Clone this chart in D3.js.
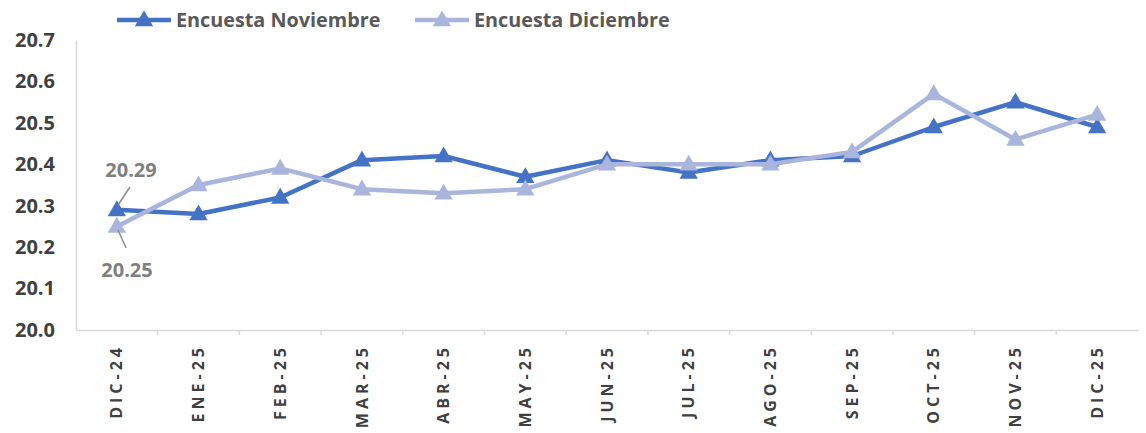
<!DOCTYPE html>
<html><head><meta charset="utf-8">
<script src="https://cdn.jsdelivr.net/npm/d3@7"></script>
<style>body{margin:0;background:#fff;} svg{display:block;font-family:"Open Sans",sans-serif;}</style>
</head><body>
<svg id="chart" width="1146" height="433"></svg>
<script>
const categories = ["DIC-24","ENE-25","FEB-25","MAR-25","ABR-25","MAY-25","JUN-25","JUL-25","AGO-25","SEP-25","OCT-25","NOV-25","DIC-25"];
const seriesNames = ["Encuesta Noviembre","Encuesta Diciembre"];
const noviembre = [20.29,20.28,20.32,20.41,20.42,20.37,20.41,20.38,20.41,20.42,20.49,20.55,20.49];
const diciembre = [20.25,20.35,20.39,20.34,20.33,20.34,20.40,20.40,20.40,20.43,20.57,20.46,20.52];
const yTicks = [20.0,20.1,20.2,20.3,20.4,20.5,20.6,20.7];
const colors = ["#4472C4","#A9B5DC"];

const svg = d3.select("#chart");
const mLeft = 76, mRight = 1138, mTop = 40, mBottom = 330;
const x = d3.scaleBand().domain(categories).range([mLeft, mRight]);
const y = d3.scaleLinear().domain([20.0, 20.7]).range([mBottom, mTop]);

// y axis
const yAxis = svg.append("g").attr("transform", `translate(${mLeft},0)`)
  .call(d3.axisLeft(y).tickValues(yTicks).tickFormat(d3.format(".1f")).tickSize(0).tickPadding(21));
yAxis.select(".domain").attr("stroke","#D9D9D9").attr("stroke-width",1.5);
yAxis.selectAll("text").attr("font-size",20).attr("font-weight","bold").attr("fill","#404040")
  .attr("font-family","'Open Sans',sans-serif");

// x axis
const xAxis = svg.append("g").attr("transform", `translate(0,${mBottom})`)
  .call(d3.axisBottom(x).tickSize(0).tickSizeOuter(0));
xAxis.select(".domain").attr("stroke","#D9D9D9").attr("stroke-width",1.5);
xAxis.selectAll(".tick line").remove();
xAxis.selectAll("text")
  .attr("transform","rotate(-90)")
  .attr("text-anchor","end")
  .attr("x",-14).attr("y",0).attr("dy","0.35em")
  .attr("font-size",16).attr("font-weight","bold").attr("fill","#404040")
  .attr("letter-spacing","4px")
  .attr("font-family","'Open Sans',sans-serif");
// tick marks at band boundaries
svg.append("g").selectAll("line").data(categories.slice(1)).join("line")
  .attr("x1", d => x(d)).attr("x2", d => x(d))
  .attr("y1", mBottom).attr("y2", mBottom + 5)
  .attr("stroke","#D9D9D9").attr("stroke-width",1.5);

const cx = d => x(d) + x.bandwidth()/2;
const line = d3.line().x((d,i) => cx(categories[i])).y(d => y(d));
const tri = d3.symbol().type(d3.symbolTriangle).size(145);

[noviembre, diciembre].forEach((vals, s) => {
  const g = svg.append("g");
  g.append("path").datum(vals).attr("d", line).attr("fill","none")
    .attr("stroke", colors[s]).attr("stroke-width",4.5).attr("stroke-linejoin","round");
  g.selectAll("path.m").data(vals).join("path").attr("class","m")
    .attr("d", tri).attr("fill", colors[s])
    .attr("transform",(d,i) => `translate(${cx(categories[i])},${y(d)+1})`);
});

// annotations
const ann = [
  {text: "20.29", tx: 131, ty: 170, lx1: 130, ly1: 187, lx2: 118, ly2: 205},
  {text: "20.25", tx: 127, ty: 270, lx1: 118, ly1: 230, lx2: 126, ly2: 248}
];
ann.forEach(a => {
  svg.append("line").attr("x1",a.lx1).attr("y1",a.ly1).attr("x2",a.lx2).attr("y2",a.ly2)
    .attr("stroke","#8C8C8C").attr("stroke-width",1.5);
  svg.append("text").attr("x",a.tx).attr("y",a.ty).attr("text-anchor","middle").attr("dy","0.35em")
    .attr("font-size",20).attr("font-weight","bold").attr("fill","#7F7F7F")
    .attr("font-family","'Open Sans',sans-serif").text(a.text);
});

// legend
const legX = [117, 415];
seriesNames.forEach((n, s) => {
  const g = svg.append("g").attr("transform", `translate(${legX[s]},20)`);
  g.append("line").attr("x1",0).attr("x2",54).attr("stroke",colors[s]).attr("stroke-width",4.5);
  g.append("path").attr("d",tri).attr("fill",colors[s]).attr("transform","translate(27,1)");
  g.append("text").attr("x",59).attr("y",0).attr("dy","0.35em")
    .attr("font-size",19.8).attr("font-weight","bold").attr("fill","#595959")
    .attr("font-family","'Open Sans',sans-serif").text(n);
});
</script>
</body></html>
